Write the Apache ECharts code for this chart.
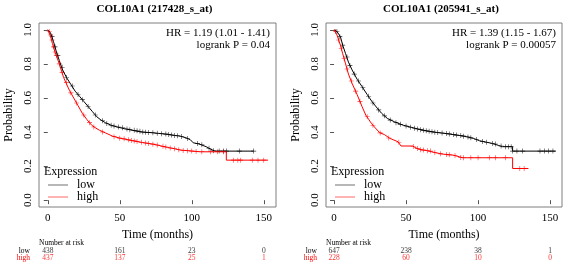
<!DOCTYPE html>
<html>
<head>
<meta charset="utf-8">
<script src="https://cdn.jsdelivr.net/npm/echarts@6/dist/echarts.min.js"></script>
<style>
  html, body { margin: 0; padding: 0; background: #fff; }
  #main { width: 567px; height: 265px; }
</style>
</head>
<body>
<div id="main"></div>
<script>
// panel titles and stats
const titles = ['COL10A1 (217428_s_at)', 'COL10A1 (205941_s_at)']
const hrText = ['HR = 1.19 (1.01 - 1.41)', 'HR = 1.39 (1.15 - 1.67)']
const pText = ['logrank P = 0.04', 'logrank P = 0.00057']

const xTicks = [0, 50, 100, 150]
const yTicks = [0, 0.2, 0.4, 0.6, 0.8, 1.0]

// number at risk, at months 0/50/100/150
const riskLow = [[438, 161, 23, 0], [647, 238, 38, 1]]
const riskHigh = [[437, 137, 25, 1], [228, 60, 10, 0]]

// KM curves [months, survival]
const leftLow = [[0,1],[2,0.98],[4,0.93],[6,0.87],[8,0.82],[10,0.77],[13,0.72],[16,0.68],[19,0.64],[22,0.61],[25,0.58],[28,0.55],[31,0.52],[34,0.49],[37,0.47],[40,0.455],[44,0.44],[48,0.43],[53,0.42],[59,0.41],[65,0.40],[71,0.397],[77,0.392],[83,0.387],[88,0.38],[92,0.376],[96,0.366],[99,0.355],[101,0.337],[105,0.33],[110,0.314],[113,0.30],[116,0.288],[143,0.288]]
const leftHigh = [[0,1],[2,0.96],[3.2,0.92],[5,0.87],[8,0.80],[11,0.72],[15,0.645],[18,0.60],[21,0.555],[24,0.51],[27,0.475],[29,0.455],[30.5,0.44],[33,0.425],[36,0.41],[40,0.395],[45,0.376],[50,0.364],[55,0.356],[59,0.349],[66,0.338],[73,0.329],[78,0.32],[83,0.31],[88,0.302],[92,0.294],[98,0.29],[106,0.284],[124,0.284],[124,0.235],[153,0.235]]
const rightLow = [[0,1],[2,0.99],[4.4,0.96],[6,0.91],[8,0.86],[10,0.81],[12.5,0.765],[16,0.71],[19.4,0.667],[23,0.62],[26.4,0.578],[30,0.54],[33,0.51],[37,0.48],[42,0.46],[48,0.44],[54,0.427],[59,0.416],[65,0.406],[71,0.398],[77,0.392],[82,0.386],[87,0.38],[92,0.373],[97,0.362],[101,0.349],[106,0.34],[110,0.333],[114,0.322],[117,0.314],[124,0.314],[124,0.288],[154,0.288]]
const rightHigh = [[0,1],[2,0.97],[4.4,0.91],[6,0.86],[8,0.80],[10,0.74],[12.5,0.686],[16,0.62],[19.4,0.55],[22,0.5],[24,0.475],[26,0.45],[28,0.43],[31.7,0.396],[35,0.385],[38.7,0.363],[44.4,0.343],[46.5,0.318],[54.6,0.318],[56,0.31],[59.3,0.298],[65,0.29],[70.8,0.278],[76,0.27],[82.4,0.265],[87,0.255],[89.3,0.249],[124,0.249],[124,0.186],[135,0.186]]

// censor marks [months, survival]
const leftLowCens = [[3,0.96],[5,0.90],[7,0.85],[10,0.78],[13,0.72],[17,0.67],[21,0.62],[24,0.59],[28,0.55],[33,0.50],[38,0.466],[41,0.45],[44,0.44],[46,0.435],[49,0.43],[52,0.425],[55,0.418],[57,0.414],[60,0.41],[62,0.407],[64,0.404],[66,0.40],[68,0.399],[70,0.398],[73,0.396],[76,0.393],[79,0.39],[82,0.388],[84,0.386],[86,0.383],[88,0.38],[90,0.378],[93,0.374],[97,0.362],[104,0.332],[107,0.325],[112,0.305],[115,0.29],[119,0.288],[122,0.288],[124,0.288],[133,0.288],[143,0.288]]
const leftHighCens = [[1,0.99],[2,0.97],[3,0.94],[4,0.90],[5,0.87],[6,0.85],[8,0.80],[10,0.75],[13,0.69],[16,0.63],[20,0.57],[25,0.50],[29,0.455],[32,0.43],[38,0.40],[46,0.373],[50,0.364],[53,0.36],[56,0.354],[58,0.351],[60,0.348],[62,0.345],[65,0.34],[68,0.336],[70,0.333],[73,0.329],[76,0.324],[80,0.316],[82,0.312],[85,0.306],[88,0.302],[91,0.296],[94,0.292],[97,0.29],[100,0.288],[103,0.286],[107,0.284],[113,0.284],[118,0.284],[122,0.284],[129,0.235],[132,0.235],[134,0.235],[142,0.235],[146,0.235],[150,0.235]]
const rightLowCens = [[2,0.99],[4,0.96],[6,0.91],[9,0.84],[11,0.79],[14,0.74],[17,0.70],[20,0.66],[24,0.61],[27,0.57],[31,0.53],[35,0.495],[39,0.47],[43,0.455],[46,0.445],[50,0.435],[53,0.428],[56,0.422],[58,0.418],[60,0.414],[62,0.41],[64,0.407],[66,0.404],[68,0.401],[70,0.399],[72,0.397],[75,0.394],[78,0.391],[80,0.389],[83,0.385],[85,0.382],[88,0.379],[90,0.376],[93,0.371],[95,0.366],[99,0.356],[103,0.345],[106,0.34],[110,0.333],[112,0.33],[116,0.318],[119,0.314],[121,0.314],[123,0.314],[124,0.288],[127,0.288],[131,0.288],[143,0.288],[146,0.288],[149,0.288],[152,0.288]]
const rightHighCens = [[1,0.99],[3,0.94],[5,0.89],[7,0.83],[9,0.77],[12,0.70],[15,0.64],[18,0.58],[23,0.49],[27,0.44],[32,0.395],[38,0.365],[45,0.34],[55,0.315],[58,0.304],[60,0.296],[62,0.294],[65,0.29],[67,0.288],[70,0.28],[74,0.272],[78,0.268],[80,0.266],[84,0.262],[88,0.25],[90,0.249],[95,0.249],[100,0.249],[108,0.249],[112,0.249],[119,0.249],[129,0.186],[132,0.186]]

const curves = [[leftLow, leftHigh], [rightLow, rightHigh]]
const cens = [[leftLowCens, leftHighCens], [rightLowCens, rightHighCens]]

const FONT = 'Liberation Serif'
const RED = '#ff0000'
const plus = 'path://M0,4.4H10V5.6H0Z M4.4,0H5.6V10H4.4Z'

const panels = [
  { left: 39, width: 237, xmin: -6.1, xmax: 158.5 },
  { left: 326, width: 236, xmin: -5.6, xmax: 158.3 }
]

const grid = []
const xAxis = []
const yAxis = []
const series = []
const legend = []
const graphic = []

panels.forEach((p, i) => {
  const gMain = grid.length
  grid.push({ left: p.left, width: p.width, top: 23, height: 184, show: true, borderColor: '#7f7f7f', borderWidth: 1, backgroundColor: 'transparent' })
  xAxis.push({
    type: 'value', gridIndex: gMain, min: p.xmin, max: p.xmax,
    name: 'Time (months)', nameLocation: 'middle', nameGap: 22,
    nameTextStyle: { fontFamily: FONT, fontSize: 12, color: '#000' },
    axisLine: { show: false },
    axisTick: { show: true, length: 4, lineStyle: { color: '#555' }, customValues: xTicks },
    axisLabel: { fontFamily: FONT, fontSize: 11, color: '#000', margin: 6, customValues: xTicks },
    splitLine: { show: false }
  })
  yAxis.push({
    type: 'value', gridIndex: gMain, min: -0.04, max: 1.04,
    name: 'Probability', nameLocation: 'middle', nameGap: 24,
    nameTextStyle: { fontFamily: FONT, fontSize: 12, color: '#000' },
    axisLine: { show: false },
    axisTick: { show: true, length: 4, lineStyle: { color: '#555' }, customValues: yTicks },
    axisLabel: { fontFamily: FONT, fontSize: 11, color: '#000', rotate: 90, margin: 5, customValues: yTicks, formatter: v => v.toFixed(1) },
    splitLine: { show: false }
  })

  const xi = xAxis.length - 1
  const yi = yAxis.length - 1
  ;['low', 'high'].forEach((name, k) => {
    const color = k === 0 ? '#000' : RED
    series.push({
      name: name, type: 'line', xAxisIndex: xi, yAxisIndex: yi,
      data: curves[i][k], showSymbol: false, symbol: 'none', silent: true,
      lineStyle: { color: color, width: 1 }, itemStyle: { color: k === 0 ? '#888' : '#ff8080' }
    })
    series.push({
      type: 'scatter', xAxisIndex: xi, yAxisIndex: yi,
      data: cens[i][k], symbol: plus, symbolSize: 5, silent: true,
      itemStyle: { color: color }
    })
  })

  legend.push({
    left: p.left + 9, top: 179, orient: 'vertical', icon: 'rect', padding: 0,
    itemWidth: 20, itemHeight: 1.2, itemGap: 0,
    textStyle: { fontFamily: FONT, fontSize: 12, lineHeight: 12, color: '#000', padding: [0, 0, 0, 4] },
    data: ['low', 'high'], selectedMode: false
  })

  // risk table grid
  const gRisk = grid.length
  grid.push({ left: p.left, width: p.width, top: 248, height: 14 })
  xAxis.push({ type: 'value', gridIndex: gRisk, min: p.xmin, max: p.xmax, show: false })
  yAxis.push({
    type: 'category', gridIndex: gRisk, data: ['low', 'high'], inverse: true,
    axisLine: { show: false }, axisTick: { show: false },
    axisLabel: {
      interval: 0, margin: 9, fontFamily: FONT, fontSize: 7.5,
      formatter: v => v === 'high' ? '{h|high}' : '{l|low}',
      rich: { h: { color: RED, fontFamily: FONT, fontSize: 7.5 }, l: { color: '#000', fontFamily: FONT, fontSize: 7.5 } }
    }
  })
  const rx = xAxis.length - 1
  const ry = yAxis.length - 1
  series.push({
    type: 'scatter', xAxisIndex: rx, yAxisIndex: ry, symbolSize: 0, silent: true,
    data: xTicks.map((t, j) => [t, 'low', riskLow[i][j]]),
    label: { show: true, position: 'inside', formatter: d => d.value[2], fontFamily: FONT, fontSize: 7.5, color: '#000' }
  })
  series.push({
    type: 'scatter', xAxisIndex: rx, yAxisIndex: ry, symbolSize: 0, silent: true,
    data: xTicks.map((t, j) => [t, 'high', riskHigh[i][j]]),
    label: { show: true, position: 'inside', formatter: d => d.value[2], fontFamily: FONT, fontSize: 7.5, color: RED }
  })

  graphic.push(
    { type: 'text', left: p.left + p.width / 2 - 61, top: 4, style: { text: titles[i], font: 'bold 11px "' + FONT + '"', fill: '#000' } },
    { type: 'text', right: 567 - p.left - p.width + 6, top: 28, style: { text: hrText[i], font: '11px "' + FONT + '"', fill: '#000', textAlign: 'right' } },
    { type: 'text', right: 567 - p.left - p.width + 6, top: 40, style: { text: pText[i], font: '11px "' + FONT + '"', fill: '#000', textAlign: 'right' } },
    { type: 'text', left: p.left + 5, top: 166, style: { text: 'Expression', font: '12px "' + FONT + '"', fill: '#000' } },
    { type: 'text', left: p.left, top: 239, style: { text: 'Number at risk', font: '7.5px "' + FONT + '"', fill: '#000' } }
  )
})

const chart = echarts.init(document.getElementById('main'), null, { renderer: 'canvas' })
chart.setOption({
  animation: false,
  backgroundColor: '#fff',
  grid: grid,
  xAxis: xAxis,
  yAxis: yAxis,
  legend: legend,
  series: series,
  graphic: graphic
})
</script>
</body>
</html>
